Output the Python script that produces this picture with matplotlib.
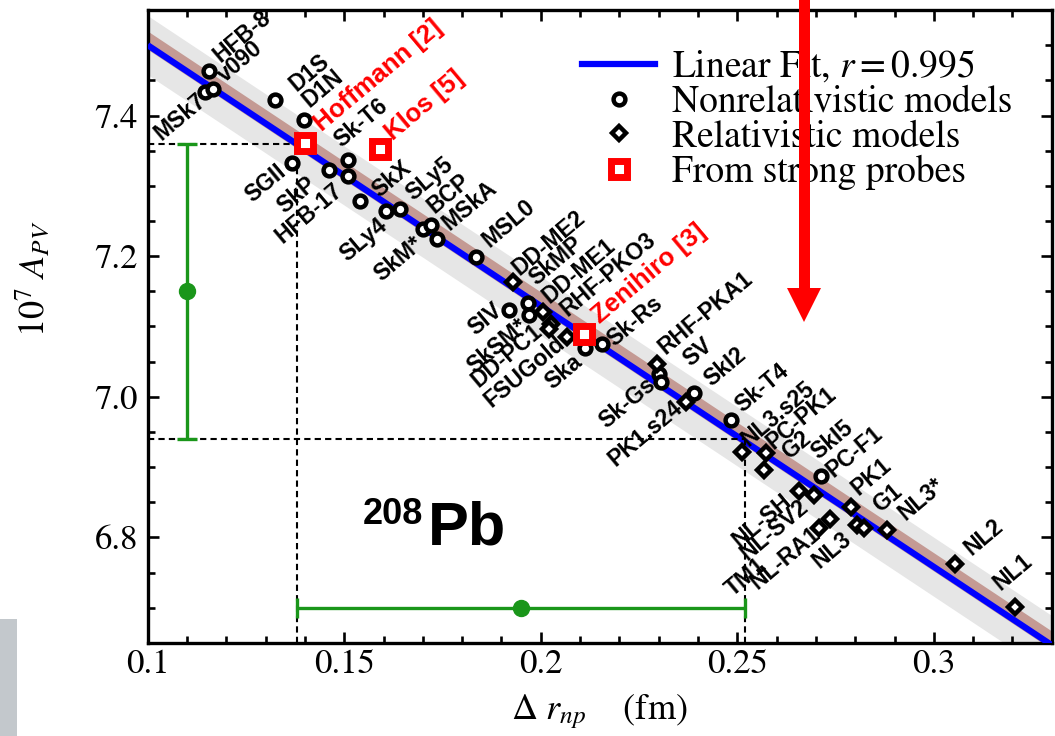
import numpy as np
import matplotlib.pyplot as plt
from matplotlib.lines import Line2D
from matplotlib.patches import Rectangle, Polygon

plt.rcParams['font.family'] = 'STIXGeneral'
plt.rcParams['mathtext.fontset'] = 'stix'

# nonrelativistic models (open circles)
nonrel_x = [0.1156, 0.1146, 0.1165, 0.1323, 0.1398, 0.1366, 0.1460, 0.1509, 0.1509,
            0.1539, 0.1607, 0.1641, 0.1700, 0.1721, 0.1736, 0.1834, 0.1918, 0.1967,
            0.1971, 0.2112, 0.2157, 0.2301, 0.2305, 0.2390, 0.2483, 0.2712]
nonrel_y = [7.463, 7.433, 7.438, 7.422, 7.393, 7.333, 7.323, 7.337, 7.314,
            7.278, 7.264, 7.267, 7.238, 7.245, 7.224, 7.199, 7.124, 7.134,
            7.116, 7.069, 7.075, 7.033, 7.021, 7.005, 6.967, 6.888]

# relativistic models (diamonds)
rel_x = [0.1930, 0.2005, 0.2026, 0.2022, 0.2068, 0.2297, 0.2369, 0.2512, 0.2572,
         0.2568, 0.2656, 0.2695, 0.2707, 0.2737, 0.2790, 0.2805, 0.2822, 0.2881,
         0.3053, 0.3207]
rel_y = [7.163, 7.120, 7.104, 7.097, 7.085, 7.047, 6.993, 6.922, 6.920,
         6.896, 6.866, 6.861, 6.814, 6.826, 6.844, 6.818, 6.814, 6.810,
         6.762, 6.701]

# from strong probes (red squares)
probe_names = ['Hoffmann [2]', 'Klos [5]', 'Zenihiro [3]']
probe_x = [0.1399, 0.1592, 0.2111]
probe_y = [7.361, 7.353, 7.090]
probe_lx = [0.1444, 0.1624, 0.2149]
probe_ly = [7.377, 7.363, 7.104]

# model labels above / right of the line
up_names = ['HFB-8', 'v090', 'D1S', 'D1N', 'Sk-T6', 'SkX', 'SLy5', 'BCP', 'MSkA',
            'MSL0', 'DD-ME2', 'SkMP', 'DD-ME1', 'RHF-PKO3', 'Sk-Rs', 'RHF-PKA1',
            'SV', 'SkI2', 'Sk-T4', 'NL3.s25', 'PC-PK1', 'G2', 'SkI5', 'PC-F1',
            'PK1', 'G1', 'NL3*', 'NL2', 'NL1']
up_x = [0.1184, 0.1196, 0.1378, 0.1412, 0.1493, 0.1590, 0.1675, 0.1730, 0.1768,
        0.1869, 0.1945, 0.1988, 0.2022, 0.2068, 0.2187, 0.2318,
        0.2381, 0.2434, 0.2513, 0.2529, 0.2593, 0.2631, 0.2707, 0.2745,
        0.2809, 0.2864, 0.2927, 0.3097, 0.3169]
up_y = [7.474, 7.446, 7.434, 7.410, 7.354, 7.283, 7.278, 7.260, 7.236,
        7.212, 7.172, 7.158, 7.132, 7.113, 7.071, 7.059,
        7.042, 7.014, 6.977, 6.929, 6.925, 6.910, 6.910, 6.885,
        6.859, 6.835, 6.823, 6.774, 6.724]

# model labels below / left of the line
down_names = ['MSk7', 'SGII', 'SkP', 'HFB-17', 'SLy4', 'SkM*', 'SIV', 'SkSM*',
              'DD-PC1', 'FSUGold', 'Ska', 'Sk-Gs', 'PK1.s24', 'NL-SH', 'NL-SV2',
              'TM1', 'NL-RA1', 'NL3']
down_x = [0.1141, 0.1344, 0.1421, 0.1488, 0.1603, 0.1692, 0.1895, 0.1958,
          0.1996, 0.2055, 0.2098, 0.2284, 0.2352, 0.2631, 0.2674,
          0.2568, 0.2703, 0.2783]
down_y = [7.425, 7.325, 7.307, 7.297, 7.248, 7.222, 7.127, 7.104,
          7.097, 7.080, 7.054, 7.021, 6.988, 6.856, 6.847,
          6.764, 6.809, 6.802]

# linear fit and bands
fit_x = np.array([0.1, 0.33])
fit_y = np.array([7.50, 6.647])
gray_band = 0.042
brown_lo, brown_hi = 0.006, 0.02

# experimental constraint
apv, apv_err, apv_at = 7.15, 0.21, 0.11
drnp, drnp_err, drnp_at = 0.195, 0.057, 6.70

fig = plt.figure(figsize=(10.55, 7.36), dpi=100)
ax = fig.add_axes([0.140, 0.1264, 0.8569, 0.8600])

ax.fill_between(fit_x, fit_y - gray_band, fit_y + gray_band, color='#e6e6e6', lw=0, zorder=1)
ax.fill_between(fit_x, fit_y - brown_lo, fit_y + brown_hi, color='#c49a94', lw=0, zorder=2)
ax.plot(fit_x, fit_y, color='#0000ff', lw=4.5, zorder=3, solid_capstyle='butt')

# dashed guides
dash = dict(color='black', lw=1.5, ls=(0, (3, 2)), zorder=4)
ax.plot([0.1, drnp - drnp_err], [apv + apv_err] * 2, **dash)
ax.plot([0.1, drnp + drnp_err], [apv - apv_err] * 2, **dash)
ax.plot([drnp - drnp_err] * 2, [6.65, apv + apv_err], **dash)
ax.plot([drnp + drnp_err] * 2, [6.65, apv - apv_err], **dash)

green = '#1a961a'
ax.errorbar([apv_at], [apv], yerr=[apv_err], fmt='o', color=green, ms=11.5, lw=2.4,
            capsize=7, capthick=2.4, zorder=5)
ax.errorbar([drnp], [drnp_at], xerr=[drnp_err], fmt='o', color=green, ms=11.5, lw=2.4,
            capsize=7, capthick=2.4, zorder=5)

ax.plot(nonrel_x, nonrel_y, 'o', ls='none', mfc='white', mec='black', ms=8.5, mew=3.2, zorder=6)
ax.plot(rel_x, rel_y, 'D', ls='none', mfc='white', mec='black', ms=7, mew=3.2, zorder=6)
ax.plot(probe_x, probe_y, 's', ls='none', mfc='white', mec='#ff0000', ms=11.5, mew=5, zorder=7)

lab = dict(family='Liberation Sans', weight='bold', fontsize=16.5, rotation=40,
           rotation_mode='anchor', zorder=8)
for n, x, y in zip(up_names, up_x, up_y):
    ax.text(x, y, n, ha='left', va='baseline', **lab)
for n, x, y in zip(down_names, down_x, down_y):
    ax.text(x, y, n, ha='right', va='center', **lab)
for n, x, y in zip(probe_names, probe_lx, probe_ly):
    ax.text(x, y, n, ha='left', va='baseline', color='#ff0000',
            **{**lab, 'fontsize': 18.5})

ax.text(0.1547, 6.858, '208', ha='left', va='top', family='Liberation Sans',
        weight='bold', fontsize=26)
ax.text(0.1712, 6.790, 'Pb', ha='left', va='baseline', family='Liberation Sans',
        weight='bold', fontsize=44)

ax.set_xlim(0.1, 0.33)
ax.set_ylim(6.65, 7.55)
ax.set_xticks([0.1, 0.15, 0.2, 0.25, 0.3])
ax.set_xticklabels(['0.1', '0.15', '0.2', '0.25', '0.3'])
ax.set_xticks(np.arange(0.1, 0.331, 0.01), minor=True)
ax.set_yticks([6.8, 7.0, 7.2, 7.4])
ax.set_yticklabels(['6.8', '7.0', '7.2', '7.4'])
ax.set_yticks(np.arange(6.65, 7.551, 0.05), minor=True)
ax.tick_params(which='both', direction='in', top=True, right=True, width=1.9, labelsize=25)
ax.tick_params(which='major', length=7.7)
ax.tick_params(which='minor', length=5)
ax.tick_params(axis='x', pad=4)
ax.tick_params(axis='y', pad=7)
for s in ax.spines.values():
    s.set_linewidth(2.4)

ax.set_xlabel(r'$\Delta\ r_{np}$    (fm)', fontsize=26, labelpad=8)
ax.set_ylabel(r'$10^7\ A_{PV}$', fontsize=26)
ax.yaxis.set_label_coords(-0.105, 0.575)

handles = [
    Line2D([], [], color='#0000ff', lw=4.5, label=r'Linear Fit, $r = 0.995$'),
    Line2D([], [], ls='none', marker='o', mfc='white', mec='black', ms=8.5, mew=3.2,
           label='Nonrelativistic models'),
    Line2D([], [], ls='none', marker='D', mfc='white', mec='black', ms=7, mew=3.2,
           label='Relativistic models'),
    Line2D([], [], ls='none', marker='s', mfc='white', mec='#ff0000', ms=11.5, mew=5,
           label='From strong probes'),
]
leg = ax.legend(handles=handles, loc='upper left', bbox_to_anchor=(0.4804, 0.94),
                frameon=False, fontsize=27, labelspacing=0.0, handlelength=1.95,
                handletextpad=0.45, borderpad=0, borderaxespad=0)
leg.set_zorder(9)

# red arrow overlay
W, H = 1055, 736
fig.add_artist(Rectangle((798.5 / W, 1 - 290 / H), 11 / W, 290 / H,
                         transform=fig.transFigure, color='#ff0000', lw=0, zorder=20))
fig.add_artist(Polygon([(787 / W, 1 - 288 / H), (821 / W, 1 - 288 / H), (804 / W, 1 - 322 / H)],
                       closed=True, transform=fig.transFigure, color='#ff0000', lw=0, zorder=20))
# gray corner block
fig.add_artist(Rectangle((0, 0), 17 / W, 117 / H, transform=fig.transFigure,
                         color='#c3c8cc', lw=0, zorder=20))

fig.savefig('out.png', dpi=100)
